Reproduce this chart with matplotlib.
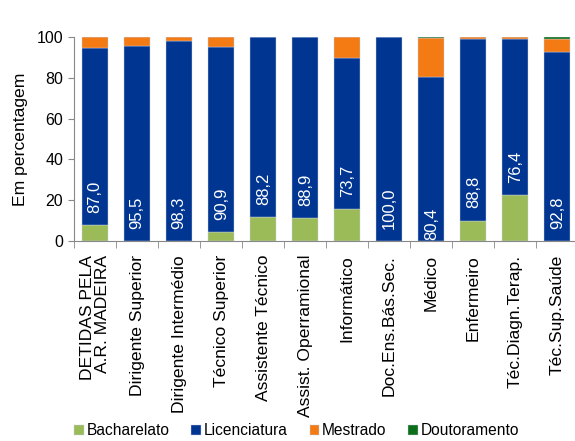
import numpy as np
import matplotlib
matplotlib.use("Agg")
import matplotlib.pyplot as plt

plt.rcParams['font.family'] = ['Liberation Sans', 'DejaVu Sans']

# Percentage of workers by qualification level, per job category
categorias = ['DETIDAS PELA\nA.R. MADEIRA', 'Dirigente Superior', 'Dirigente Intermédio',
              'Técnico Superior', 'Assistente Técnico', 'Assist. Operramional',
              'Informático', 'Doc.Ens.Bás.Sec.', 'Médico', 'Enfermeiro',
              'Téc.Diagn.Terap.', 'Téc.Sup.Saúde']
bacharelato = [7.8, 0.0, 0.0, 4.2, 11.8, 11.1, 15.8, 0.0, 0.0, 10.0, 22.4, 0.0]
licenciatura = [87.0, 95.5, 98.3, 90.9, 88.2, 88.9, 73.7, 100.0, 80.4, 88.8, 76.4, 92.8]
mestrado = [5.2, 4.5, 1.7, 4.9, 0.0, 0.0, 10.5, 0.0, 19.2, 1.2, 1.2, 6.2]
doutoramento = [0.0, 0.0, 0.0, 0.0, 0.0, 0.0, 0.0, 0.0, 0.4, 0.0, 0.0, 1.0]

series = [('Bacharelato', bacharelato, '#9BBB59'),
          ('Licenciatura', licenciatura, '#003591'),
          ('Mestrado', mestrado, '#F47A14'),
          ('Doutoramento', doutoramento, '#0A6E1A')]

fig = plt.figure(figsize=(5.75, 4.41), dpi=100)
ax = fig.add_axes([0.129, 0.4535, 0.877, 0.4625])

x = np.arange(len(categorias))
base = np.zeros(len(categorias))
for nome, vals, cor in series:
    vals = np.array(vals)
    ax.bar(x, vals, width=0.62, bottom=base, color=cor, label=nome,
           edgecolor='#c8d2e6', linewidth=0.3)
    base += vals

# value labels for Licenciatura, inside the bar near its base
for i, v in enumerate(licenciatura):
    gap = 0.5 if categorias[i] == 'Médico' else 6
    ax.text(x[i], bacharelato[i] + gap, f'{v:.1f}'.replace('.', ','),
            rotation=90, ha='center', va='bottom', color='white', fontsize=12)

ax.set_xlim(-0.5, len(categorias) - 0.5)
ax.set_ylim(0, 100)
ax.set_yticks(range(0, 101, 20))
ax.tick_params(axis='y', labelsize=11.5, length=4, color='#888888', pad=4)
ax.set_xticks(x)
ax.set_xticklabels(categorias, rotation=90, fontsize=12.6, multialignment='right',
                   linespacing=1.0)
ax.set_xticks(np.arange(-0.5, len(categorias), 1), minor=True)
ax.tick_params(axis='x', which='major', length=0, pad=10)
ax.tick_params(axis='x', which='minor', length=5, color='#888888')
ax.set_ylabel('Em percentagem', fontsize=12.6, labelpad=6)

for s in ['top', 'right']:
    ax.spines[s].set_visible(False)
for s in ['left', 'bottom']:
    ax.spines[s].set_color('#888888')

fig.legend(loc='lower center', bbox_to_anchor=(0.516, -0.026), ncol=4,
           frameon=False, fontsize=11.2, handlelength=0.6, handleheight=0.6,
           handletextpad=0.2, columnspacing=1.4)

fig.savefig('out.png', dpi=100)
